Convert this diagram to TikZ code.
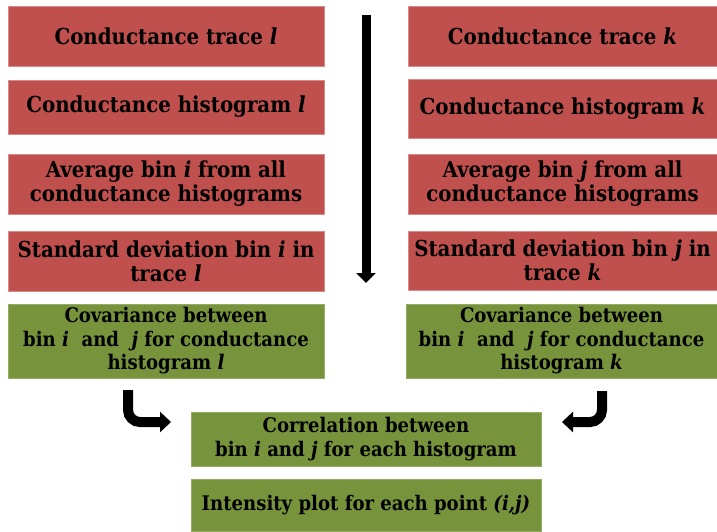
\documentclass[tikz,border=0pt]{standalone}
\usepackage{fontspec}
\setmainfont{DejaVu Serif Condensed}
\usetikzlibrary{arrows.meta}
\definecolor{cRed}{HTML}{C0504D}
\definecolor{cRedEdge}{HTML}{D98A88}
\definecolor{cGreen}{HTML}{77933C}
\definecolor{cGreenEdge}{HTML}{93AB63}
\tikzset{
  box/.style={inner sep=0pt, align=center, line width=0.8pt,
    font=\fontsize{22}{24}\selectfont\bfseries},
  redbox/.style={box, fill=cRed, draw=cRedEdge},
  greenbox/.style={box, fill=cGreen, draw=cGreenEdge,
    font=\fontsize{20.1}{23.5}\selectfont\bfseries},
  flow/.style={line width=10pt, -{Triangle[width=20pt,length=11pt]}},
}
\begin{document}
\begin{tikzpicture}[x=1pt,y=-1pt]
\useasboundingbox (0,0) rectangle (717,531);
% left column
\node[redbox, minimum width=316pt, minimum height=60pt] (L1) at (166,36) {Conductance trace \textit{l}};
\node[redbox, minimum width=316pt, minimum height=54pt] (L2) at (166,107) {Conductance histogram \textit{l}};
\node[redbox, minimum width=316pt, minimum height=60pt] (L3) at (166,184) {Average bin \textit{i} from all\\conductance histograms};
\node[redbox, minimum width=316pt, minimum height=60pt] (L4) at (166,261) {Standard deviation bin \textit{i} in\\trace \textit{l}};
\node[greenbox, minimum width=316pt, minimum height=74pt] (L5) at (166,341) {Covariance between\\bin \textit{i}~ and ~\textit{j} for conductance\\histogram \textit{l}};
% right column
\node[redbox, minimum width=309pt, minimum height=60pt] (R1) at (562.5,36) {Conductance trace \textit{k}};
\node[redbox, minimum width=309pt, minimum height=59pt] (R2) at (562.5,108.5) {Conductance histogram \textit{k}};
\node[redbox, minimum width=309pt, minimum height=60pt] (R3) at (562.5,184) {Average bin \textit{j} from all\\conductance histograms};
\node[redbox, minimum width=309pt, minimum height=59pt] (R4) at (562.5,260.5) {Standard deviation bin \textit{j} in\\trace \textit{k}};
\node[greenbox, minimum width=311pt, minimum height=74pt] (R5) at (561.5,341) {Covariance between\\bin \textit{i}~ and ~\textit{j} for conductance\\histogram \textit{k}};
% bottom
\node[greenbox, minimum width=350pt, minimum height=54pt] (C) at (366,439) {Correlation between\\bin \textit{i} and \textit{j} for each histogram};
\node[greenbox, minimum width=350pt, minimum height=52pt] (I) at (366,505) {Intensity plot for each point \textit{(i,j)}};
% arrows
\coordinate (vtop) at (366,15);
\coordinate (vbot) at (366,283);
\draw[line width=9pt, -{Triangle[width=19pt,length=10pt]}] (vtop) -- (vbot);
\coordinate (la) at (128,390);
\coordinate (lb) at (171,422);
\draw[flow, rounded corners=12pt] (la) |- (lb);
\coordinate (ra) at (602,391);
\coordinate (rb) at (562,422);
\draw[flow, rounded corners=12pt] (ra) |- (rb);
\end{tikzpicture}
\end{document}
